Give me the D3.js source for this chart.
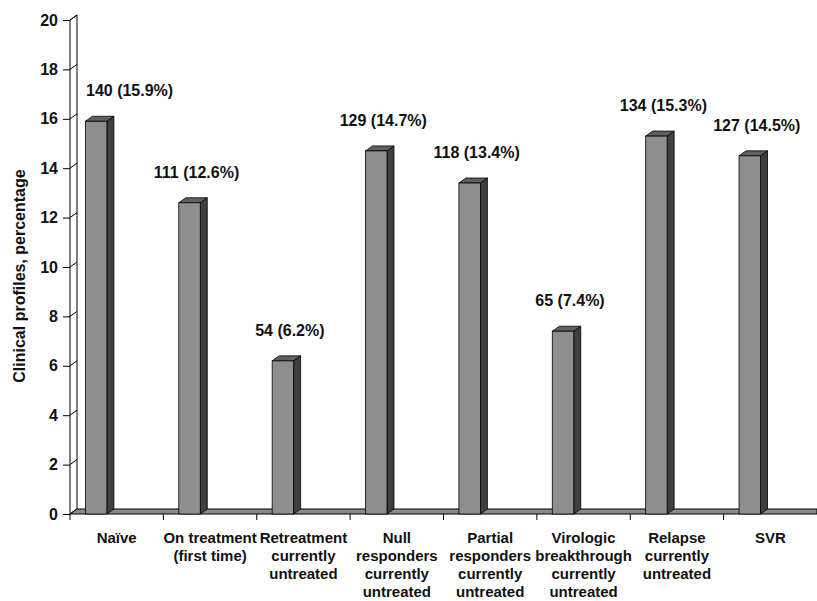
<!DOCTYPE html>
<html>
<head>
<meta charset="utf-8">
<script src="https://cdn.jsdelivr.net/npm/d3@7"></script>
<style>
  body { margin: 0; background: #fff; }
  text { font-family: "Liberation Sans", Arial, sans-serif; font-weight: bold; fill: #111; }
</style>
</head>
<body>
<script>
// data
var categories = ["Naïve", "On treatment|(first time)", "Retreatment|currently|untreated",
  "Null|responders|currently|untreated", "Partial|responders|currently|untreated",
  "Virologic|breakthrough|currently|untreated", "Relapse|currently|untreated", "SVR"];
var counts = [140, 111, 54, 129, 118, 65, 134, 127];
var percents = [15.9, 12.6, 6.2, 14.7, 13.4, 7.4, 15.3, 14.5];
var yTicks = [0, 2, 4, 6, 8, 10, 12, 14, 16, 18, 20];

var width = 817, height = 601;
var x0 = 70, yBase = 514, yTop = 20;
var dx = 7, dy = 5; // depth of the 3d look

var svg = d3.select("body").append("svg").attr("width", width).attr("height", height);

var x = d3.scaleBand().domain(categories).range([x0, width]);
var y = d3.scaleLinear().domain([0, 20]).range([yBase, yTop]);
var bw = x.bandwidth();
var barW = bw * 0.23, barOff = bw * 0.165;

// side wall
svg.append("path")
  .attr("d", "M" + x0 + "," + y(0) + "L" + x0 + "," + y(20) + "L" + (x0 + dx) + "," + (y(20) - dy) +
    "L" + (x0 + dx) + "," + (y(0) - dy) + "Z")
  .attr("fill", "#fff").attr("stroke", "#000").attr("stroke-width", 1);

// wall ticks running back
svg.append("g").selectAll("line").data(yTicks).enter().append("line")
  .attr("x1", x0).attr("x2", x0 + dx)
  .attr("y1", function(d){ return y(d); })
  .attr("y2", function(d){ return y(d) - dy; })
  .attr("stroke", "#000");

// floor
svg.append("path")
  .attr("d", "M" + x0 + "," + yBase + "L" + width + "," + yBase + "L" + width + "," + (yBase - dy) +
    "L" + (x0 + dx) + "," + (yBase - dy) + "Z")
  .attr("fill", "#8a8a8a").attr("stroke", "#000").attr("stroke-width", 1);

// y axis
var yAxis = d3.axisLeft(y).tickValues(yTicks).tickSize(7).tickSizeOuter(0).tickPadding(5);
var gy = svg.append("g").attr("transform", "translate(" + x0 + ",0)").call(yAxis);
gy.select(".domain").remove();
gy.selectAll("line").attr("stroke", "#000");
gy.selectAll("text").style("font-size", "16px").style("font-family", "Liberation Sans, Arial, sans-serif")
  .style("font-weight", "bold").attr("fill", "#111");

// category ticks at band edges
var edges = categories.map(function(c){ return x(c); });
svg.append("g").selectAll("line").data(edges).enter().append("line")
  .attr("x1", function(d){ return d; }).attr("x2", function(d){ return d; })
  .attr("y1", yBase).attr("y2", yBase + 6)
  .attr("stroke", "#000");

// bars
var bars = svg.append("g").selectAll("g").data(categories).enter().append("g");
bars.each(function(c, i){
  var g = d3.select(this);
  var bx = x(c) + barOff, yt = y(percents[i]);
  // side
  g.append("path")
    .attr("d", "M" + (bx + barW) + "," + yBase + "L" + (bx + barW) + "," + yt +
      "L" + (bx + barW + dx) + "," + (yt - dy) + "L" + (bx + barW + dx) + "," + (yBase - dy) + "Z")
    .attr("fill", "#3f3f3f").attr("stroke", "#000").attr("stroke-width", 0.8);
  // top
  g.append("path")
    .attr("d", "M" + bx + "," + yt + "L" + (bx + dx) + "," + (yt - dy) +
      "L" + (bx + barW + dx) + "," + (yt - dy) + "L" + (bx + barW) + "," + yt + "Z")
    .attr("fill", "#606060").attr("stroke", "#000").attr("stroke-width", 0.8);
  // front
  g.append("rect")
    .attr("x", bx).attr("y", yt).attr("width", barW).attr("height", yBase - yt)
    .attr("fill", "#8e8e8e").attr("stroke", "#000").attr("stroke-width", 0.8);
});

// value labels
svg.append("g").selectAll("text").data(categories).enter().append("text")
  .attr("text-anchor", "middle")
  .style("font-size", "16px")
  .attr("y", function(c, i){ return y(percents[i]) - 25; })
  .text(function(c, i){ return counts[i] + " (" + percents[i] + "%)"; })
  .attr("x", function(c, i){
    var cx = x(c) + barOff + barW / 2 + 7;
    var half = this.getComputedTextLength() / 2;
    return Math.max(cx, x0 + 16 + half);
  });

// category labels
var lab = svg.append("g").selectAll("text").data(categories).enter().append("text")
  .attr("text-anchor", "middle")
  .style("font-size", "15px")
  .attr("transform", function(c){ return "translate(" + (x(c) + bw / 2) + "," + 543 + ")"; });
lab.selectAll("tspan").data(function(c){ return c.split("|"); }).enter().append("tspan")
  .attr("x", 0).attr("y", function(d, j){ return j * 18; })
  .text(function(d){ return d; });

// y title
svg.append("text")
  .attr("text-anchor", "middle")
  .style("font-size", "16px")
  .attr("transform", "translate(25," + 276 + ") rotate(-90)")
  .text("Clinical profiles, percentage");
</script>
</body>
</html>
